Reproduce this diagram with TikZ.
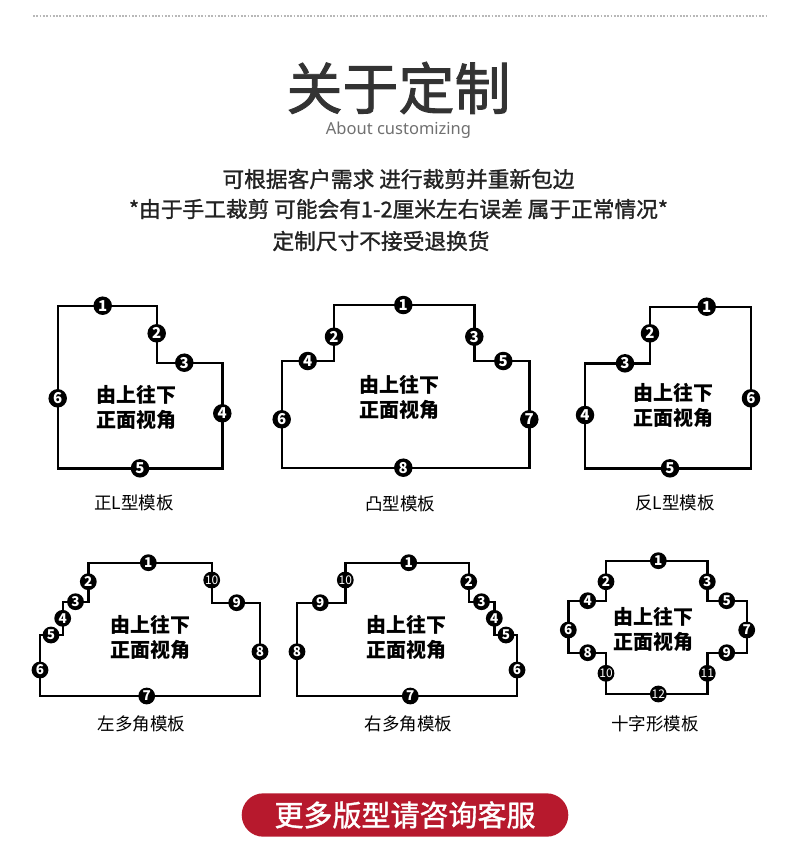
\documentclass[tikz,border=0pt]{standalone}
\usepackage{fontspec}
\newfontfamily\cjk{Noto Sans CJK SC}
\newfontfamily\cjkm[FakeBold=1.3]{Noto Sans CJK SC}
\newfontfamily\cjkt[FakeBold=1.6]{Noto Sans CJK SC}
\newfontfamily\latinf{Noto Sans}
\definecolor{titlegray}{HTML}{333333}
\definecolor{txtdark}{HTML}{222222}
\definecolor{subgray}{HTML}{707070}
\definecolor{dotgray}{HTML}{B8B8B8}
\definecolor{btnred}{RGB}{183,25,45}
\begin{document}
\begin{tikzpicture}[x=1pt,y=-1pt,
  outline/.style={line width=2.4pt, line join=miter, draw=black},
  mk/.style={circle, fill=black, inner sep=0pt, minimum size=18.5pt, text=white,
    font=\cjk\bfseries\fontsize{15}{15}\selectfont},
  mks/.style={mk, minimum size=16.8pt, font=\cjk\bfseries\fontsize{13.5}{13.5}\selectfont},
  mkd/.style={mks, font=\cjk\fontsize{12}{12}\selectfont},
  innertxt/.style={font=\cjk\bfseries\fontsize{20}{25}\selectfont, align=center, text=black},
  captxt/.style={font=\cjk\fontsize{17.5}{17.5}\selectfont, text=black},
  linetxt/.style={font=\cjkm\fontsize{21.7}{21.7}\selectfont, text=txtdark}]

\fill[white] (0,0) rectangle (790,855);
\useasboundingbox (0,0) rectangle (790,855);

% top dotted rule
\coordinate (dl) at (33,16);
\coordinate (dr) at (767,16);
\draw[dotgray, line width=1.3pt, dash pattern=on 1.7pt off 1.6pt] (dl) -- (dr);

% header
\node[font=\cjkt\fontsize{56}{56}\selectfont, text=titlegray] (title) at (398.5,88) {关于定制};
\node[font=\latinf\fontsize{16.5}{16.5}\selectfont, text=subgray] (sub) at (398.5,130) {About customizing};
\node[linetxt] (l1) at (398.5,179) {可根据客户需求 进行裁剪并重新包边};
\node[linetxt] (l2) at (398.5,209) {*由于手工裁剪 可能会有1-2厘米左右误差 属于正常情况*};
\node[linetxt] (l3) at (381,241) {定制尺寸不接受退换货};

% ---------- shape 1: 正L型 ----------
\coordinate (a1) at (57.7,305.7);
\coordinate (a2) at (156.7,305.7);
\coordinate (a3) at (156.7,362.7);
\coordinate (a4) at (222.3,362.7);
\coordinate (a5) at (222.3,468.3);
\coordinate (a6) at (57.7,468.3);
\draw[outline] (a1) -- (a2) -- (a3) -- (a4) -- (a5) -- (a6) -- cycle;
\node[mk] (am1) at (102.7,305.7) {1};
\node[mk] (am2) at (156.7,333.3) {2};
\node[mk] (am3) at (184.3,362.7) {3};
\node[mk] (am4) at (222.3,413.3) {4};
\node[mk] (am5) at (140,468.3) {5};
\node[mk] (am6) at (57.7,398.3) {6};
\node[innertxt] (at) at (136.7,407) {由上往下\\正面视角};
\node[captxt] (ac) at (134,503) {正L型模板};

% ---------- shape 2: 凸型 ----------
\coordinate (b1) at (334,305);
\coordinate (b2) at (474.3,305);
\coordinate (b3) at (474.3,361);
\coordinate (b4) at (529.3,361);
\coordinate (b5) at (529.3,467.7);
\coordinate (b6) at (281.7,467.7);
\coordinate (b7) at (281.7,361);
\coordinate (b8) at (334,361);
\draw[outline] (b1) -- (b2) -- (b3) -- (b4) -- (b5) -- (b6) -- (b7) -- (b8) -- cycle;
\node[mk] (bm1) at (403.3,305) {1};
\node[mk] (bm2) at (334,336.7) {2};
\node[mk] (bm3) at (474.3,336.7) {3};
\node[mk] (bm4) at (307.7,361) {4};
\node[mk] (bm5) at (503.3,361) {5};
\node[mk] (bm6) at (281.7,419.3) {6};
\node[mk] (bm7) at (529.3,419.3) {7};
\node[mk] (bm8) at (403.3,467.7) {8};
\node[innertxt] (bt) at (399.3,397) {由上往下\\正面视角};
\node[captxt] (bc) at (400,504) {凸型模板};

% ---------- shape 3: 反L型 ----------
\coordinate (c1) at (650,306.7);
\coordinate (c2) at (751,306.7);
\coordinate (c3) at (751,468.3);
\coordinate (c4) at (585,468.3);
\coordinate (c5) at (585,363.3);
\coordinate (c6) at (650,363.3);
\draw[outline] (c1) -- (c2) -- (c3) -- (c4) -- (c5) -- (c6) -- cycle;
\node[mk] (cm1) at (706.7,306.7) {1};
\node[mk] (cm2) at (650,333.3) {2};
\node[mk] (cm3) at (625,363.3) {3};
\node[mk] (cm4) at (585,415) {4};
\node[mk] (cm5) at (670,468.3) {5};
\node[mk] (cm6) at (751,398.3) {6};
\node[innertxt] (ct) at (673.3,405) {由上往下\\正面视角};
\node[captxt] (cc) at (675,503) {反L型模板};

% ---------- shape 4: 左多角 ----------
\coordinate (d1) at (88.3,562.7);
\coordinate (d2) at (211.7,562.7);
\coordinate (d3) at (211.7,602.7);
\coordinate (d4) at (260,602.7);
\coordinate (d5) at (260,696);
\coordinate (d6) at (40,696);
\coordinate (d7) at (40,635);
\coordinate (d8) at (62.7,635);
\coordinate (d9) at (62.7,601.7);
\coordinate (d10) at (88.3,601.7);
\draw[outline] (d1) -- (d2) -- (d3) -- (d4) -- (d5) -- (d6) -- (d7) -- (d8) -- (d9) -- (d10) -- cycle;
\node[mks] (dm1) at (148.3,562.7) {1};
\node[mks] (dm2) at (88.3,581.7) {2};
\node[mks] (dm3) at (75.5,601.7) {3};
\node[mks] (dm4) at (62.7,618.3) {4};
\node[mks] (dm5) at (51,635) {5};
\node[mks] (dm6) at (40,670) {6};
\node[mks] (dm7) at (146.7,696) {7};
\node[mks] (dm8) at (260,651.7) {8};
\node[mks] (dm9) at (236.7,602.7) {9};
\node[mkd] (dm10) at (211.7,580) {10};
\node[innertxt] (dt) at (150,637) {由上往下\\正面视角};
\node[captxt] (dc) at (141.7,724) {左多角模板};

% ---------- shape 5: 右多角 ----------
\coordinate (e1) at (468.7,562.7);
\coordinate (e2) at (345.3,562.7);
\coordinate (e3) at (345.3,602.7);
\coordinate (e4) at (297,602.7);
\coordinate (e5) at (297,696);
\coordinate (e6) at (517,696);
\coordinate (e7) at (517,635);
\coordinate (e8) at (494.3,635);
\coordinate (e9) at (494.3,601.7);
\coordinate (e10) at (468.7,601.7);
\draw[outline] (e1) -- (e2) -- (e3) -- (e4) -- (e5) -- (e6) -- (e7) -- (e8) -- (e9) -- (e10) -- cycle;
\node[mks] (em1) at (408.7,562.7) {1};
\node[mks] (em2) at (468.7,581.7) {2};
\node[mks] (em3) at (481.5,601.7) {3};
\node[mks] (em4) at (494.3,618.3) {4};
\node[mks] (em5) at (506,635) {5};
\node[mks] (em6) at (517,670) {6};
\node[mks] (em7) at (410.3,696) {7};
\node[mks] (em8) at (297,651.7) {8};
\node[mks] (em9) at (320.3,602.7) {9};
\node[mkd] (em10) at (345.3,580) {10};
\node[innertxt] (et) at (406.7,637.5) {由上往下\\正面视角};
\node[captxt] (ec) at (408.3,724) {右多角模板};

% ---------- shape 6: 十字形 ----------
\coordinate (f1) at (606,560.7);
\coordinate (f2) at (707.3,560.7);
\coordinate (f3) at (707.3,600.7);
\coordinate (f4) at (746.7,600.7);
\coordinate (f5) at (746.7,652.7);
\coordinate (f6) at (707.3,652.7);
\coordinate (f7) at (707.3,694);
\coordinate (f8) at (606,694);
\coordinate (f9) at (606,652.7);
\coordinate (f10) at (568.3,652.7);
\coordinate (f11) at (568.3,600.7);
\coordinate (f12) at (606,600.7);
\draw[outline] (f1) -- (f2) -- (f3) -- (f4) -- (f5) -- (f6) -- (f7) -- (f8) -- (f9) -- (f10) -- (f11) -- (f12) -- cycle;
\node[mks] (fm1) at (658.3,560.7) {1};
\node[mks] (fm2) at (606,581.7) {2};
\node[mks] (fm3) at (707.3,581.7) {3};
\node[mks] (fm4) at (587.7,600.7) {4};
\node[mks] (fm5) at (726.7,600.7) {5};
\node[mks] (fm6) at (568.3,630) {6};
\node[mks] (fm7) at (746.7,630) {7};
\node[mks] (fm8) at (587.7,652.7) {8};
\node[mks] (fm9) at (726.7,652.7) {9};
\node[mkd] (fm10) at (606,673.3) {10};
\node[mkd] (fm11) at (707.3,673.3) {11};
\node[mkd] (fm12) at (658.3,694) {12};
\node[innertxt] (ft) at (653.3,629) {由上往下\\正面视角};
\node[captxt] (fc) at (655,724) {十字形模板};

% ---------- button ----------
\node[fill=btnred, rounded corners=21.7pt, minimum width=326.6pt, minimum height=43.4pt,
      inner sep=0pt, text=white, font=\cjkm\fontsize{29}{29}\selectfont] (btn) at (405,815) {更多版型请咨询客服};
\end{tikzpicture}
\end{document}
